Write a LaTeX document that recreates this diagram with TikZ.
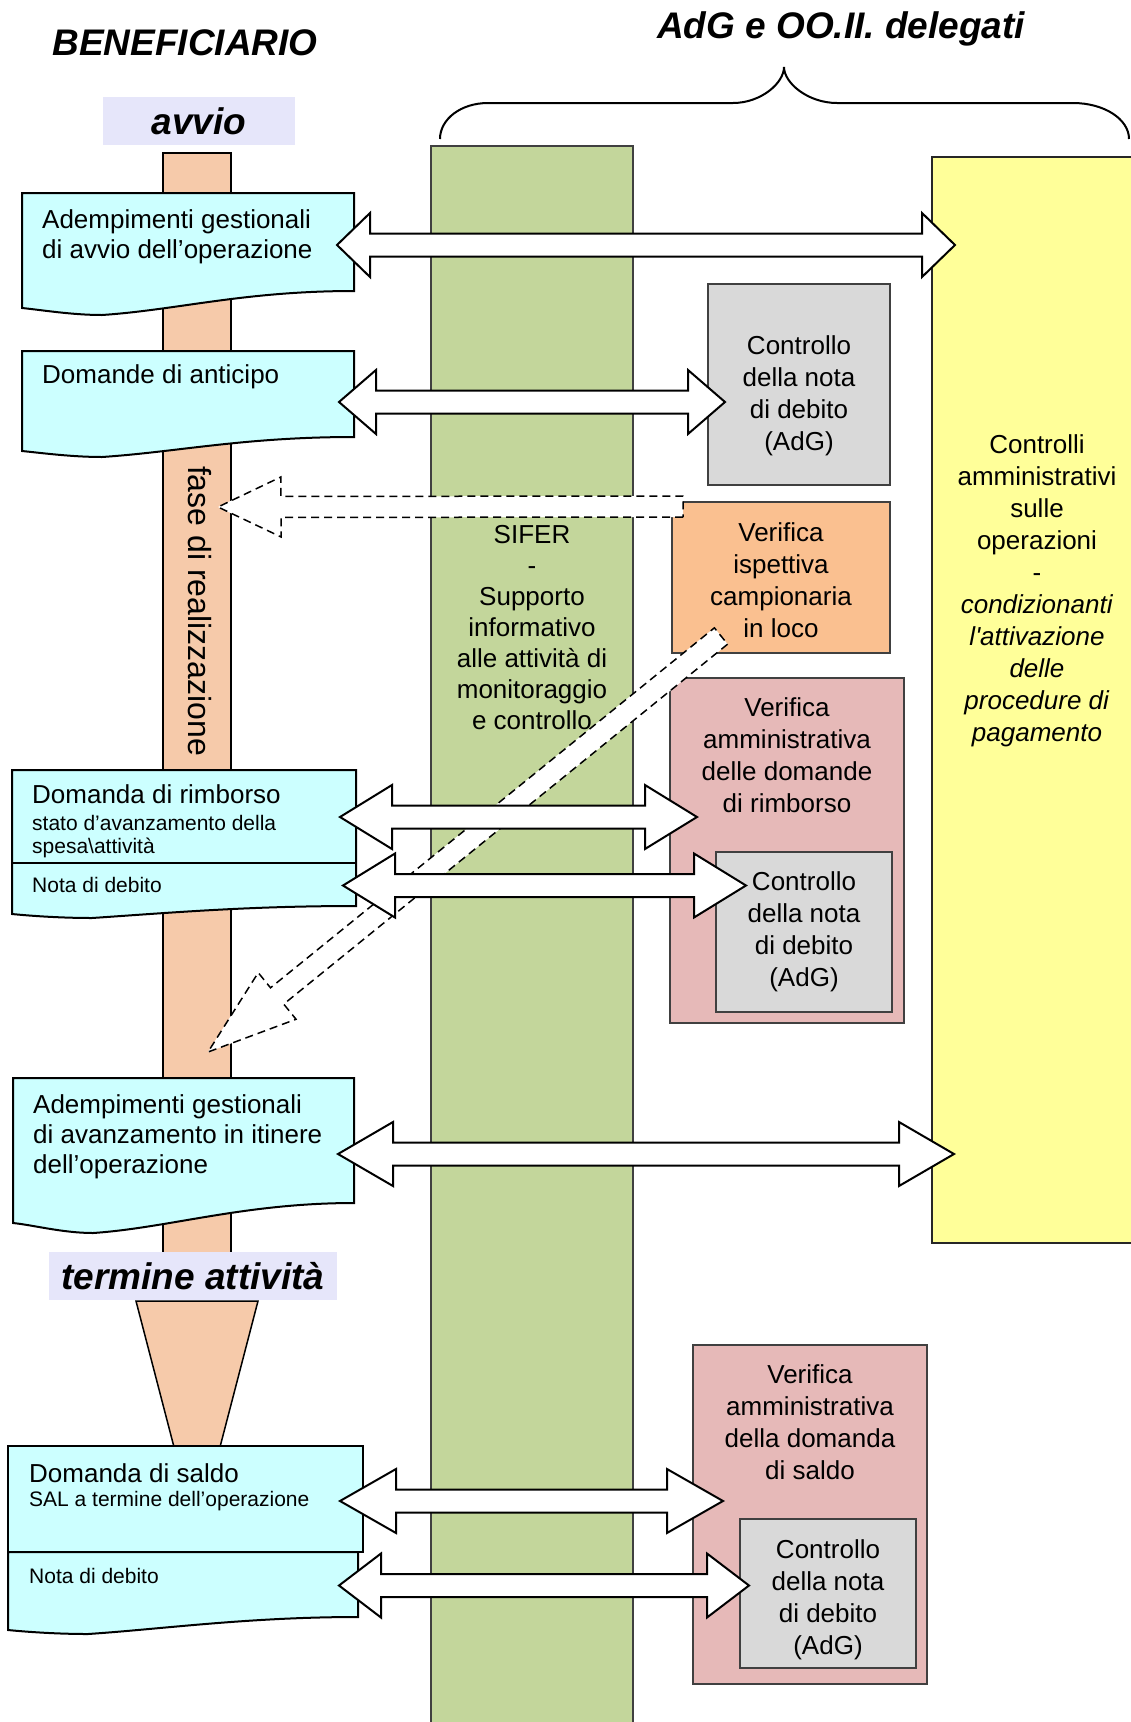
\documentclass[tikz,border=0pt]{standalone}
\usepackage{fontspec}
\setmainfont{Liberation Sans}
\usepackage{tikz}
\usetikzlibrary{calc, fit, positioning}

\definecolor{docCyan}{HTML}{CCFFFF}
\definecolor{phasePeach}{HTML}{F6CAAA}
\definecolor{siferGreen}{HTML}{C3D69B}
\definecolor{ctrlYellow}{HTML}{FFFF99}
\definecolor{notaGray}{HTML}{D9D9D9}
\definecolor{locoOrange}{HTML}{FAC090}
\definecolor{verPink}{HTML}{E6B9B8}
\definecolor{phaseLav}{HTML}{E6E6FA}

\tikzset{
x=1pt, y=-1pt, % one unit per pixel, y grows downwards
cyan doc/.style={draw, line width=2pt, fill=docCyan},
ctrl box/.style={draw=black!75, line width=1.3pt, inner sep=0pt},
box text/.style={align=center, inner sep=0pt, font=\fontsize{26}{32}\selectfont},
doc text/.style={align=left, inner sep=0pt, anchor=north west, font=\fontsize{26}{30}\selectfont},
doc line/.style={inner sep=0pt, anchor=base west, font=\fontsize{26}{30}\selectfont},
small line/.style={inner sep=0pt, anchor=base west, font=\fontsize{21}{23}\selectfont},
heading/.style={inner sep=0pt, font=\fontsize{37}{44}\selectfont\bfseries\itshape},
phase box/.style={heading, fill=phaseLav},
block arrow/.style={draw, line width=2pt, fill=white}, % hollow two-headed arrows
dashed block/.style={draw, line width=1.5pt, fill=white, dash pattern=on 8pt off 5pt},
}

% document shape: left, top, right, bottom right, drop at left, lowest drop
\newcommand{\docbox}[6]{%
\draw[cyan doc] (#1,#2) -- (#3,#2) -- (#3,#4)
  .. controls +(-110,0) and +(75,-5) .. (#1+80,#4+#6)
  .. controls +(-30,0) and +(20,2) .. (#1,#4+#5) -- cycle;}

% two-headed block arrow: from, to, head length
\newcommand{\dblarrow}[3]{%
\draw[block arrow] (#1)
  -- ($(#1)!#3!(#2)!32pt!90:(#2)$) -- ($(#1)!#3!(#2)!11.5pt!90:(#2)$)
  -- ($(#2)!#3!(#1)!11.5pt!-90:(#1)$) -- ($(#2)!#3!(#1)!32pt!-90:(#1)$)
  -- (#2)
  -- ($(#2)!#3!(#1)!32pt!90:(#1)$) -- ($(#2)!#3!(#1)!11.5pt!90:(#1)$)
  -- ($(#1)!#3!(#2)!11.5pt!-90:(#2)$) -- ($(#1)!#3!(#2)!32pt!-90:(#2)$)
  -- cycle;}

% one-headed dashed block arrow: tail, tip, head length
\newcommand{\sglarrow}[3]{%
\draw[dashed block] ($(#1)!10.5pt!90:(#2)$)
  -- ($(#2)!#3!(#1)!10.5pt!-90:(#1)$) -- ($(#2)!#3!(#1)!30pt!-90:(#1)$)
  -- (#2)
  -- ($(#2)!#3!(#1)!30pt!90:(#1)$) -- ($(#2)!#3!(#1)!10.5pt!90:(#1)$)
  -- ($(#1)!10.5pt!-90:(#2)$) -- cycle;}

\begin{document}
\begin{tikzpicture}
\useasboundingbox (0,0) rectangle (1131,1722);

% headings and brace
\node[heading, anchor=base] (benef) at (185,55) {BENEFICIARIO};
\node[heading, anchor=base] (adg) at (841,38) {AdG e OO.II. delegati};
\draw[line width=2pt] (440,139) .. controls (440,119) and (461,103) .. (488,103) -- (733,103)
  .. controls (761,103) and (784,83) .. (784,67)
  .. controls (784,83) and (808,103) .. (837,103) -- (1073,103)
  .. controls (1104,103) and (1129,119) .. (1129,139);

% beneficiary time line
\node[draw, line width=1.5pt, fill=phasePeach, inner sep=0pt, fit={(163,153) (231,1260)}] (fasecol) {};
\draw[line width=1.5pt, fill=phasePeach] (136,1301) -- (258,1301) -- (220,1447) -- (174,1447) -- cycle;
\node[phase box, minimum width=192, minimum height=48] (avvio) at (199,121) {avvio};
\node[phase box, minimum width=288, minimum height=48] (termine) at (193,1276) {termine attività};
\node[rotate=-90, inner sep=0pt, font=\fontsize{32}{38}\selectfont] (fase) at (200,611) {fase di realizzazione};

% control side
\node[ctrl box, fill=siferGreen, fit={(431,146) (633,1740)}] (sifer) {};
\node[ctrl box, draw=black!85, fill=ctrlYellow, fit={(932,157) (1145,1243)}] (ctrlamm) {};
\node[ctrl box, fill=notaGray, fit={(708,284) (890,485)}] (nota1) {};
\node[ctrl box, fill=locoOrange, fit={(672,502) (890,653)}] (loco) {};
\node[ctrl box, fill=verPink, fit={(670,678) (904,1023)}] (verrimb) {};
\node[ctrl box, fill=notaGray, fit={(716,852) (892,1012)}] (nota2) {};
\node[ctrl box, fill=verPink, fit={(693,1345) (927,1684)}] (versaldo) {};
\node[ctrl box, fill=notaGray, fit={(740,1519) (916,1668)}] (nota3) {};

\node[box text, font=\fontsize{26}{31}\selectfont] (sifertxt) at (532,627.5)
  {SIFER\\-\\Supporto\\informativo\\alle attività di\\monitoraggio\\e controllo};
\node[box text] (ctrltxt) at (1037,591) {Controlli\\amministrativi\\sulle\\operazioni\\-\\\textit{condizionanti}\\\textit{l\textquotesingle attivazione}\\\textit{delle}\\\textit{procedure di}\\\textit{pagamento}};
\node[box text] (nota1txt) at (799,396) {Controllo\\della nota\\di debito\\(AdG)};
\node[box text] (locotxt) at (781,580) {Verifica\\ispettiva\\campionaria\\in loco};
\node[box text] (verrimbtxt) at (787,755.5) {Verifica\\amministrativa\\delle domande\\di rimborso};
\node[box text] (nota2txt) at (804,932) {Controllo\\della nota\\di debito\\(AdG)};
\node[box text] (versaldotxt) at (810,1422.5) {Verifica\\amministrativa\\della domanda\\di saldo};
\node[box text] (nota3txt) at (828,1599.5) {Controllo\\della nota\\di debito\\(AdG)};

% beneficiary documents
\docbox{22}{193}{354}{291}{17}{24}
\docbox{22}{351}{354}{437}{14}{20}
\docbox{12}{770}{356}{906}{8}{12}
\draw[line width=2pt] (12,863) -- (356,863);
\docbox{13}{1078}{354}{1203}{20}{30}
\docbox{8}{1552}{358}{1617}{13}{17}
\draw[cyan doc] (8,1446) rectangle (363,1552);

\node[doc text] (avvioOp) at (42,209.4) {Adempimenti gestionali\\di avvio dell’operazione};
\node[doc line] (anticipo) at (42,383) {Domande di anticipo};
\node[doc line] (rimborso) at (32,803) {Domanda di rimborso};
\node[small line, anchor=north west, align=left] (rimbSal) at (32,815) {stato d’avanzamento della\\spesa\textbackslash attività};
\node[small line] (rimbNota) at (32,892) {Nota di debito};
\node[doc text] (itinere) at (33,1094.4) {Adempimenti gestionali\\di avanzamento in itinere\\dell’operazione};
\node[doc line] (saldo) at (29,1482) {Domanda di saldo};
\node[small line] (saldoSal) at (29,1506.5) {SAL a termine dell’operazione};
\node[small line] (saldoNota) at (29,1583.5) {Nota di debito};

% arrow ends
\coordinate (avvioL) at (337,245);     \coordinate (avvioR) at (955,245);
\coordinate (anticipoL) at (339,402);  \coordinate (anticipoR) at (725,402);
\coordinate (rimbL) at (340,817);      \coordinate (rimbR) at (697,817);
\coordinate (notaL) at (343,885.5);    \coordinate (notaR) at (746,885.5);
\coordinate (itinereL) at (338,1154);  \coordinate (itinereR) at (954,1154);
\coordinate (saldoL) at (340,1501);    \coordinate (saldoR) at (723,1501);
\coordinate (notaSL) at (339,1585.5);  \coordinate (notaSR) at (749,1585.5);
\coordinate (locoTail) at (683,506.5); \coordinate (locoTip) at (218,507);
\coordinate (campTail) at (721,636);   \coordinate (campTip) at (208,1052);

% sample checks back to the beneficiary
\sglarrow{locoTail}{locoTip}{63pt}
\sglarrow{campTail}{campTip}{89pt}

% exchanges
\dblarrow{avvioL}{avvioR}{33pt}
\dblarrow{anticipoL}{anticipoR}{37pt}
\dblarrow{rimbL}{rimbR}{52pt}
\dblarrow{notaL}{notaR}{52pt}
\dblarrow{itinereL}{itinereR}{55pt}
\dblarrow{saldoL}{saldoR}{56pt}
\dblarrow{notaSL}{notaSR}{42pt}

\end{tikzpicture}
\end{document}
